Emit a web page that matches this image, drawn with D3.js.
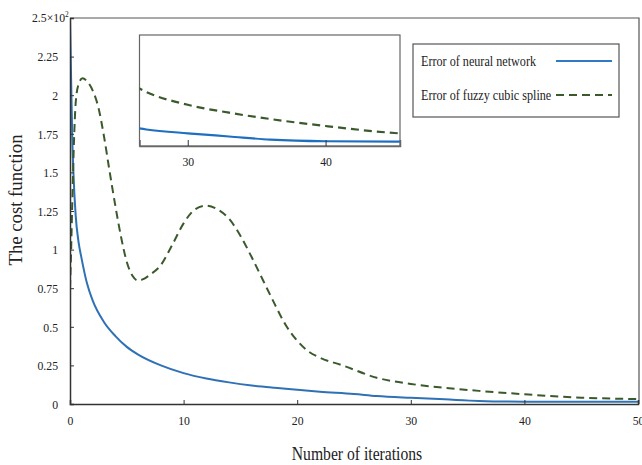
<!DOCTYPE html>
<html>
<head>
<meta charset="utf-8">
<script src="https://cdn.jsdelivr.net/npm/d3@7"></script>
<style>
  body { margin: 0; background: #fff; }
  text { font-family: "Liberation Serif", "Times New Roman", serif; fill: #222; }
</style>
</head>
<body>
<div id="visContainer"></div>
<script>
'use strict';

// values
var nnIter  = [0, 0.1, 0.2, 0.3, 0.5, 0.75, 1, 1.5, 2, 3, 4, 5, 6, 8, 10, 12, 14, 16, 18, 20, 22, 25, 27, 30, 33, 36, 40, 45, 50];
var nnError = [2.5, 2.1, 1.72, 1.5, 1.22, 1.05, 0.95, 0.78, 0.67, 0.53, 0.44, 0.37, 0.32, 0.25, 0.2, 0.165, 0.14, 0.12, 0.105, 0.092, 0.08, 0.065, 0.052, 0.04, 0.03, 0.02, 0.015, 0.014, 0.014];

var fcsIter  = [0, 0.1, 0.2, 0.35, 0.5, 0.75, 1.1, 1.5, 2, 2.5, 3, 3.5, 4, 4.5, 5, 5.5, 6, 6.5, 7, 8, 9, 10, 11, 12, 13, 14, 15, 16, 17, 18, 19, 20, 21, 22, 24, 27, 30, 33, 36, 40, 45, 50];
var fcsError = [0.75, 1.0, 1.3, 1.7, 1.95, 2.07, 2.11, 2.09, 2.03, 1.92, 1.73, 1.5, 1.28, 1.08, 0.92, 0.83, 0.8, 0.81, 0.835, 0.9, 1.03, 1.17, 1.26, 1.285, 1.26, 1.2, 1.09, 0.95, 0.8, 0.65, 0.51, 0.41, 0.34, 0.3, 0.25, 0.17, 0.13, 0.105, 0.085, 0.063, 0.041, 0.032];

var yTicks = [0, 0.25, 0.5, 0.75, 1, 1.25, 1.5, 1.75, 2, 2.25];
var xTicks = [0, 10, 20, 30, 40, 50];
var insetTicks = [30, 40];
var seriesNames = ['Error of neural network', 'Error of fuzzy cubic spline'];

var blue = '#2f71b5';
var green = '#3a5a2c';

var width = 642, height = 465;
var plotLeft = 70, plotRight = 639, plotTop = 18, plotBottom = 404;

var svg = d3.select('#visContainer')
    .append('svg')
    .attr('width', width)
    .attr('height', height);

var x = d3.scaleLinear().domain([0, 50]).range([plotLeft, 638]);
var y = d3.scaleLinear().domain([0, 2.5]).range([plotBottom, plotTop]);

function zip(a, b) { return a.map(function(v, i) { return [v, b[i]]; }); }
var nnData = zip(nnIter, nnError);
var fcsData = zip(fcsIter, fcsError);

// the original's lettering is narrow, squeeze text horizontally
function condense(sel, k) {
    sel.each(function() {
        var w = this.getComputedTextLength();
        d3.select(this).attr('textLength', w * k).attr('lengthAdjust', 'spacingAndGlyphs');
    });
}

var defs = svg.append('defs');
defs.append('clipPath').attr('id', 'mainClip')
    .append('rect').attr('x', plotLeft).attr('y', plotTop)
    .attr('width', plotRight - plotLeft).attr('height', plotBottom - plotTop);

// frame (top and right)
svg.append('path')
    .attr('d', 'M' + plotLeft + ',' + plotTop + 'H' + plotRight + 'V' + plotBottom)
    .attr('fill', 'none').attr('stroke', '#555').attr('stroke-width', 1.2);

var mainLine = d3.line()
    .x(function(d) { return x(d[0]); })
    .y(function(d) { return y(d[1]); })
    .curve(d3.curveMonotoneX);

var g = svg.append('g').attr('clip-path', 'url(#mainClip)');
g.append('path').datum(nnData)
    .attr('d', mainLine).attr('fill', 'none')
    .attr('stroke', blue).attr('stroke-width', 2);
g.append('path').datum(fcsData)
    .attr('d', mainLine).attr('fill', 'none')
    .attr('stroke', green).attr('stroke-width', 2).attr('stroke-dasharray', '8,5');

function styleAxis(a, col) {
    a.select('.domain').attr('stroke', col).attr('stroke-width', 1.5);
    a.selectAll('.tick line').attr('stroke', '#333');
    a.selectAll('text').attr('font-size', 13.5).attr('font-family', 'Liberation Serif').attr('fill', '#222')
        .call(condense, 0.87);
}

// axes, ticks inward
var yAxis = d3.axisLeft(y).tickValues(yTicks).tickSize(-4).tickPadding(12)
    .tickFormat(function(d) { return d3.format('')(d); });
svg.append('g').attr('transform', 'translate(' + plotLeft + ',0)').call(yAxis)
    .call(styleAxis, '#333');

// top label 2.5x10^2
var topLab = svg.append('text').attr('x', 32).attr('y', 22).attr('font-size', 13.5);
topLab.append('tspan').text('2.5×10');
topLab.append('tspan').attr('font-size', 8.5).attr('dy', -5).text('2');
topLab.call(condense, 0.87);

var xAxis = d3.axisBottom(x).tickValues(xTicks).tickSize(-4).tickPadding(11)
    .tickFormat(d3.format('d'));
svg.append('g').attr('transform', 'translate(0,' + plotBottom + ')').call(xAxis)
    .call(styleAxis, '#333');

// axis titles
svg.append('text').attr('x', 357).attr('y', 460).attr('text-anchor', 'middle')
    .attr('font-size', 18).text('Number of iterations')
    .call(condense, 0.87);
svg.append('text').attr('transform', 'translate(22,200) rotate(-90)').attr('text-anchor', 'middle')
    .attr('font-size', 18).text('The cost function')
    .call(condense, 1.04);

// inset zoom of iterations ~27-45
var ix0 = 139.5, ix1 = 400, iy0 = 35, iy1 = 146;
var xi = d3.scaleLinear().domain([26.5, 45.4]).range([ix0, ix1]);
var yi = d3.scaleLinear().domain([0, 0.35]).range([iy1, iy0]);

defs.append('clipPath').attr('id', 'insetClip')
    .append('rect').attr('x', ix0).attr('y', iy0).attr('width', ix1 - ix0).attr('height', iy1 - iy0);

svg.append('rect').attr('x', ix0).attr('y', iy0).attr('width', ix1 - ix0).attr('height', iy1 - iy0)
    .attr('fill', '#fff').attr('stroke', '#666').attr('stroke-width', 1.2);

var insetLine = d3.line()
    .x(function(d) { return xi(d[0]); })
    .y(function(d) { return yi(d[1]); })
    .curve(d3.curveMonotoneX);

var gi = svg.append('g').attr('clip-path', 'url(#insetClip)');
gi.append('path').datum(nnData)
    .attr('d', insetLine).attr('fill', 'none')
    .attr('stroke', '#1f6fc0').attr('stroke-width', 2.2);
gi.append('path').datum(fcsData)
    .attr('d', insetLine).attr('fill', 'none')
    .attr('stroke', green).attr('stroke-width', 2.2).attr('stroke-dasharray', '8,5');

var xiAxis = d3.axisBottom(xi).tickValues(insetTicks).tickSize(-6).tickPadding(10)
    .tickFormat(d3.format('d'));
svg.append('g').attr('transform', 'translate(0,' + iy1 + ')').call(xiAxis)
    .call(styleAxis, '#666');

// legend
var legend = svg.append('g');
legend.append('rect').attr('x', 413).attr('y', 44).attr('width', 206).attr('height', 73)
    .attr('fill', '#fff').attr('stroke', '#555').attr('stroke-width', 1.2);

var rows = legend.selectAll('g.row').data(seriesNames).enter().append('g')
    .attr('transform', function(d, i) { return 'translate(0,' + (66 + i * 34) + ')'; });
rows.append('text').attr('x', 421).attr('y', 0).attr('font-size', 15)
    .text(function(d) { return d; })
    .call(condense, 0.81);
rows.append('line').attr('x1', 556).attr('x2', 612).attr('y1', -5).attr('y2', -5)
    .attr('stroke', function(d, i) { return i === 0 ? '#2e7bc4' : green; })
    .attr('stroke-width', 2)
    .attr('stroke-dasharray', function(d, i) { return i === 0 ? null : '8,5'; });
</script>
</body>
</html>
